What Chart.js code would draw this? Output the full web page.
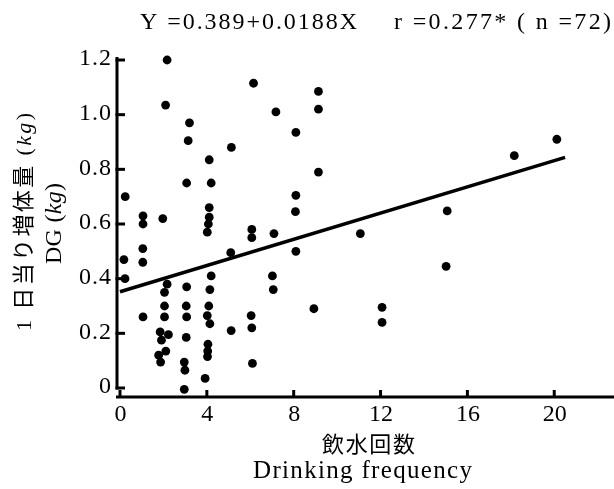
<!DOCTYPE html>
<html>
<head>
<meta charset="utf-8">
<script src="https://cdn.jsdelivr.net/npm/chart.js@4.4.0/dist/chart.umd.min.js"></script>
<style>
html,body{margin:0;padding:0;background:#fff;}
#wrap{width:614px;height:489px;}
</style>
</head>
<body>
<div id="wrap"><canvas id="c" width="614" height="489"></canvas></div>
<script>
// ---- data ----
const drinkFreq = [0.24,0.18,0.23, 1.06,1.06,1.05,1.05,1.06,
  2.17,2.1,1.97,2.17,2.05,2.05,2.05,1.85,2.23,1.91,2.11,1.78,1.87,
  3.2,3.14,3.07,3.07,3.05,3.07,3.05,2.96,2.99,2.96,
  4.11,4.2,4.11,4.11,4.07,4.02,4.2,4.14,4.09,4.02,4.14,4.05,4.04,4.03,3.92,
  5.13,5.1,5.12, 6.15,6.07,6.07,6.04,6.07,6.1, 7.18,7.09,7.02,7.06,
  8.1,8.1,8.08,8.1,8.93, 9.14,9.14,9.14, 11.07, 12.07,12.07, 15.07,15.02, 18.16, 20.12];
const dailyGain = [0.70,0.47,0.40, 0.63,0.60,0.51,0.46,0.26,
  1.20,1.035,0.62,0.38,0.35,0.30,0.26,0.205,0.195,0.175,0.135,0.12,0.095,
  0.97,0.905,0.75,0.37,0.30,0.26,0.185,0.095,0.065,-0.005,
  0.835,0.75,0.66,0.625,0.60,0.57,0.41,0.36,0.30,0.265,0.235,0.16,0.135,0.115,0.035,
  0.88,0.495,0.21, 1.115,0.58,0.55,0.265,0.22,0.09, 1.01,0.565,0.41,0.36,
  0.935,0.705,0.645,0.50,0.29, 1.085,1.02,0.79, 0.565, 0.295,0.24, 0.648,0.445, 0.85, 0.91];
const fitLineX = [0, 20.5];
const fitLineY = [0.352, 0.844];
const xTicks = [0, 4, 8, 12, 16, 20];
const yTicks = [0, 0.2, 0.4, 0.6, 0.8, 1.0, 1.2];
const yTickLabels = ['0', '0.2', '0.4', '0.6', '0.8', '1.0', '1.2'];
const titleLeft = 'Y =0.389+0.0188X';
const titleRight = 'r =0.277* ( n =72)';
const xTitleJa = '飲水回数';
const xTitleEn = 'Drinking frequency';
const yTitleJa = [['1 日当り増体量 (', 'n'], ['kg', 'i'], [')', 'n']];
const yTitleEn = [['DG (', 'n'], ['kg', 'i'], [')', 'n']];

const SERIF = '"Liberation Serif","DejaVu Serif","Noto Sans CJK JP",serif';

function drawRich(ctx, segs, size, x0, width, y) {
  ctx.letterSpacing = '0px';
  let total = 0, n = 0;
  const ws = segs.map(s => {
    ctx.font = (s[1] === 'i' ? 'italic ' : '') + size + 'px ' + SERIF;
    const w = ctx.measureText(s[0]).width;
    total += w; n += [...s[0]].length;
    return w;
  });
  const sp = n > 1 ? (width - total) / (n - 1) : 0;
  let x = x0;
  ctx.textAlign = 'left';
  segs.forEach((s, i) => {
    ctx.font = (s[1] === 'i' ? 'italic ' : '') + size + 'px ' + SERIF;
    ctx.letterSpacing = sp + 'px';
    ctx.fillText(s[0], x, y);
    x += ws[i] + [...s[0]].length * sp;
  });
  ctx.letterSpacing = '0px';
}

const decor = {
  id: 'decor',
  beforeDraw(chart) {
    const ctx = chart.ctx;
    ctx.save();
    ctx.fillStyle = '#fff';
    ctx.fillRect(0, 0, chart.width, chart.height);
    ctx.restore();
  },
  beforeDatasetsDraw(chart) {
    const ctx = chart.ctx;
    const xs = chart.scales.x, ys = chart.scales.y;
    const axY = chart.chartArea.bottom - 1;
    const axX = xs.getPixelForValue(0) - 3;
    ctx.save();
    ctx.strokeStyle = '#000';
    ctx.fillStyle = '#000';
    ctx.lineWidth = 3;
    ctx.lineCap = 'butt';
    ctx.beginPath();
    ctx.moveTo(axX, ys.getPixelForValue(1.2) - 3);
    ctx.lineTo(axX, ys.getPixelForValue(0) + 1.5);
    ctx.stroke();
    yTicks.forEach(v => {
      const py = ys.getPixelForValue(v);
      ctx.beginPath();
      ctx.moveTo(axX - 1.5, py);
      ctx.lineTo(axX + 8, py);
      ctx.stroke();
    });
    ctx.beginPath();
    ctx.moveTo(axX - 1, axY);
    ctx.lineTo(chart.width, axY);
    ctx.stroke();
    xTicks.forEach(v => {
      const px = xs.getPixelForValue(v);
      ctx.beginPath();
      ctx.moveTo(px, axY);
      ctx.lineTo(px, axY - 7);
      ctx.stroke();
    });
    ctx.textBaseline = 'middle';
    ctx.textAlign = 'right';
    ctx.font = '24px ' + SERIF;
    ctx.letterSpacing = '1px';
    yTicks.forEach((v, i) => {
      ctx.fillText(yTickLabels[i], 112, ys.getPixelForValue(v) - 1);
    });
    ctx.letterSpacing = '0px';
    ctx.textAlign = 'center';
    ctx.textBaseline = 'alphabetic';
    ctx.font = '24px ' + SERIF;
    xTicks.forEach(v => {
      ctx.fillText(String(v), xs.getPixelForValue(v) + 0.5, 421);
    });
    drawRich(ctx, [[titleLeft, 'n']], 24, 140, 217, 29);
    drawRich(ctx, [[titleRight, 'n']], 24, 394, 217, 29);
    drawRich(ctx, [[xTitleJa, 'n']], 22, 322, 93, 452);
    drawRich(ctx, [[xTitleEn, 'n']], 25, 253, 219, 478);
    ctx.save();
    ctx.translate(31, 331);
    ctx.rotate(-Math.PI / 2);
    drawRich(ctx, yTitleJa, 22, 0, 218, 0);
    ctx.restore();
    ctx.save();
    ctx.translate(61, 264);
    ctx.rotate(-Math.PI / 2);
    drawRich(ctx, yTitleEn, 24, 0, 81, 0);
    ctx.restore();
    ctx.restore();
  }
};

const points = drinkFreq.map((x, i) => ({x: x, y: dailyGain[i]}));
const fitLine = fitLineX.map((x, i) => ({x: x, y: fitLineY[i]}));

new Chart(document.getElementById('c'), {
  type: 'scatter',
  data: {
    datasets: [
      {
        type: 'line',
        data: fitLine,
        borderColor: '#000',
        borderWidth: 3.5,
        pointRadius: 0,
        fill: false,
        clip: false,
        order: 2
      },
      {
        data: points,
        backgroundColor: '#000',
        borderColor: '#000',
        borderWidth: 0,
        pointRadius: 4.4,
        clip: false,
        order: 1
      }
    ]
  },
  options: {
    responsive: false,
    animation: false,
    devicePixelRatio: 1,
    layout: { padding: { left: 120, right: 0, top: 60, bottom: 91 } },
    plugins: { legend: { display: false }, tooltip: { enabled: false }, title: { display: false } },
    scales: {
      x: { type: 'linear', display: false, min: 0, max: 22.55 },
      y: { type: 'linear', display: false, min: -0.0366, max: 1.2 }
    }
  },
  plugins: [decor]
});
</script>
</body>
</html>
